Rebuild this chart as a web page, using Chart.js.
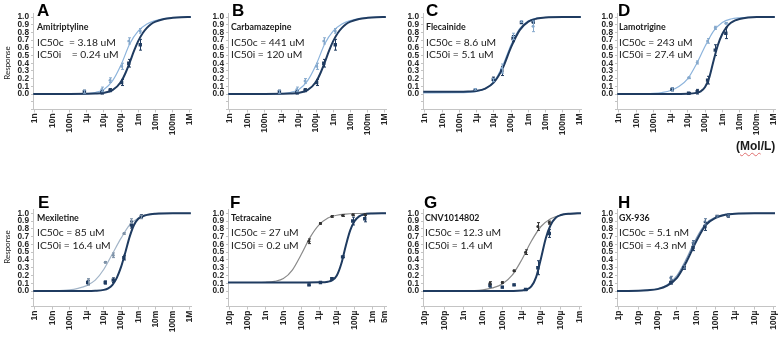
<!DOCTYPE html>
<html><head><meta charset="utf-8">
<script src="https://cdn.jsdelivr.net/npm/chart.js@4.4.0/dist/chart.umd.min.js"></script>
<style>
html,body{margin:0;padding:0;background:#fff;}
body{width:782px;height:337px;position:relative;overflow:hidden;font-family:Lato,"Liberation Sans",Arial,sans-serif;color:#1a1a1a;}
canvas{position:absolute;}
.lt{position:absolute;font-family:"Liberation Sans",Arial,sans-serif;font-weight:bold;font-size:17px;line-height:17px;color:#000;}
.nm{position:absolute;font-weight:bold;font-size:8.8px;line-height:8.8px;white-space:pre;color:#1a1a1a;}
.ic{position:absolute;font-size:10.3px;line-height:10.3px;white-space:pre;color:#1a1a1a;}
.resp{position:absolute;width:60px;height:10px;line-height:10px;text-align:center;font-size:8px;transform:rotate(-90deg);color:#1a1a1a;}
.unit{position:absolute;font-family:"Liberation Sans",Arial,sans-serif;font-weight:bold;font-size:12px;line-height:12px;color:#1a1a1a;}
</style>
</head><body>
<canvas id="cA" width="195" height="150" style="left:0px;top:0px"></canvas>
<canvas id="cB" width="195" height="150" style="left:195px;top:0px"></canvas>
<canvas id="cC" width="195" height="150" style="left:390px;top:0px"></canvas>
<canvas id="cD" width="195" height="150" style="left:584px;top:0px"></canvas>
<canvas id="cE" width="195" height="177" style="left:0px;top:160px"></canvas>
<canvas id="cF" width="195" height="177" style="left:195px;top:160px"></canvas>
<canvas id="cG" width="195" height="177" style="left:390px;top:160px"></canvas>
<canvas id="cH" width="195" height="177" style="left:584px;top:160px"></canvas>

<div class="lt" style="left:37px;top:2px">A</div>
<div class="nm" style="left:37px;top:23.4px">Amitriptyline</div>
<div class="ic" style="left:37px;top:36.6px">IC50c  = 3.18 uM</div>
<div class="ic" style="left:37px;top:48.6px">IC50i    = 0.24 uM</div>

<div class="lt" style="left:232px;top:2px">B</div>
<div class="nm" style="left:231px;top:23.4px">Carbamazepine</div>
<div class="ic" style="left:231px;top:36.6px">IC50c = 441 uM</div>
<div class="ic" style="left:231px;top:48.6px">IC50i = 120 uM</div>

<div class="lt" style="left:426px;top:2px">C</div>
<div class="nm" style="left:426px;top:23.4px">Flecainide</div>
<div class="ic" style="left:426px;top:36.6px">IC50c = 8.6 uM</div>
<div class="ic" style="left:426px;top:48.6px">IC50i = 5.1 uM</div>

<div class="lt" style="left:618px;top:2px">D</div>
<div class="nm" style="left:619px;top:23.4px">Lamotrigine</div>
<div class="ic" style="left:619px;top:36.6px">IC50c = 243 uM</div>
<div class="ic" style="left:619px;top:48.6px">IC50i = 27.4 uM</div>

<div class="lt" style="left:38px;top:194px">E</div>
<div class="nm" style="left:37px;top:214.4px">Mexiletine</div>
<div class="ic" style="left:37px;top:226.6px">IC50c = 85 uM</div>
<div class="ic" style="left:37px;top:239.6px">IC50i = 16.4 uM</div>

<div class="lt" style="left:230px;top:194px">F</div>
<div class="nm" style="left:231px;top:214.4px">Tetracaine</div>
<div class="ic" style="left:231px;top:226.6px">IC50c = 27 uM</div>
<div class="ic" style="left:231px;top:239.6px">IC50i = 0.2 uM</div>

<div class="lt" style="left:424px;top:194px">G</div>
<div class="nm" style="left:425px;top:214.4px">CNV1014802</div>
<div class="ic" style="left:425px;top:226.6px">IC50c = 12.3 uM</div>
<div class="ic" style="left:425px;top:239.6px">IC50i = 1.4 uM</div>

<div class="lt" style="left:618px;top:194px">H</div>
<div class="nm" style="left:619px;top:214.4px">GX-936</div>
<div class="ic" style="left:619px;top:226.6px">IC50c = 5.1 nM</div>
<div class="ic" style="left:619px;top:239.6px">IC50i = 4.3 nM</div>

<div class="resp" style="left:-23px;top:57.5px">Response</div>
<div class="resp" style="left:-23px;top:242px">Response</div>
<div class="unit" style="left:736px;top:140px">(<span style="text-decoration:underline wavy #e07070;text-decoration-thickness:1px;text-underline-offset:2px">Mol</span>/L)</div>

<script>
// ---- tick labels ----
const tickValsN = [1e-9,1e-8,1e-7,1e-6,1e-5,1e-4,1e-3,1e-2,1e-1,1];
const tickLabsN = ['1n','10n','100n','1µ','10µ','100µ','1m','10m','100m','1M'];
const tickValsF = [1e-11,1e-10,1e-9,1e-8,1e-7,1e-6,1e-5,1e-4,1e-3,5e-3];
const tickLabsF = ['10p','100p','1n','10n','100n','1µ','10µ','100µ','1m','5m'];
const tickValsG = [1e-11,1e-10,1e-9,1e-8,1e-7,1e-6,1e-5,1e-4,1e-3];
const tickLabsG = ['10p','100p','1n','10n','100n','1µ','10µ','100µ','1m'];
const tickValsH = [1e-12,1e-11,1e-10,1e-9,1e-8,1e-7,1e-6,1e-5,1e-4];
const tickLabsH = ['1p','10p','100p','1n','10n','100n','1µ','10µ','100µ'];
const yTickVals = [-0.2,-0.1,0,0.1,0.2,0.3,0.4,0.5,0.6,0.7,0.8,0.9,1.0];

// ---- A: Amitriptyline ----
const concA = [7.4e-7,7.6e-6,2.3e-5,1.07e-4,2.8e-4,1.3e-3];
const ctrlA = [0.03,0.06,0.18,0.36,0.69,0.82];
const ctrlErrA = [0.02,0.03,0.03,0.04,0.04,0.03];
const inactA = [0.03,0.02,0.05,0.15,0.40,0.64];
const inactErrA = [0.02,0.02,0.02,0.04,0.05,0.07];
const ctrlFitLogA = [-9.1,-7,-6,-5.5,-5,-4.5,-4,-3.5,-3,-2.5,-2,-1.5,-1,0.05];
const ctrlFitA    = [0,0.001,0.006,0.02,0.06,0.17,0.38,0.65,0.82,0.91,0.955,0.98,0.993,1];
const inactFitLogA = [-9.1,-7,-6,-5.5,-5,-4.5,-4,-3.75,-3.5,-3.25,-3,-2.75,-2.5,-2.25,-2,-1.5,-1,-0.5,0.05];
const inactFitA    = [0,0,0.002,0.005,0.015,0.05,0.16,0.27,0.41,0.56,0.69,0.79,0.86,0.91,0.94,0.975,0.99,0.998,1];

// ---- B: Carbamazepine ----
const concB = [7.4e-7,7.6e-6,2.3e-5,1.07e-4,2.8e-4,1.3e-3];
const ctrlB = [0.03,0.06,0.17,0.36,0.69,0.82];
const ctrlErrB = [0.02,0.03,0.03,0.04,0.04,0.03];
const inactB = [0.03,0.02,0.05,0.15,0.40,0.64];
const inactErrB = [0.02,0.02,0.02,0.04,0.05,0.07];
const ctrlFitLogB = [-9.1,-7,-6,-5.5,-5,-4.5,-4,-3.5,-3,-2.5,-2,-1.5,-1,0.05];
const ctrlFitB    = [0,0.001,0.006,0.02,0.06,0.17,0.38,0.65,0.82,0.91,0.955,0.98,0.993,1];
const inactFitLogB = [-9.1,-7,-6,-5.5,-5,-4.5,-4,-3.75,-3.5,-3.25,-3,-2.75,-2.5,-2.25,-2,-1.5,-1,-0.5,0.05];
const inactFitB    = [0,0,0.002,0.005,0.015,0.05,0.16,0.27,0.41,0.56,0.69,0.79,0.86,0.91,0.94,0.975,0.99,0.998,1];

// ---- C: Flecainide ----
const concC = [8.3e-7,9.3e-6,2.9e-5,1.3e-4,4.0e-4,1.9e-3];
const ctrlC = [0.06,0.18,0.33,0.75,0.94,0.88];
const ctrlErrC = [0.01,0.02,0.06,0.04,0.01,0.07];
const inactC = [0.05,0.19,0.30,0.72,0.93,0.94];
const inactErrC = [0.01,0.03,0.06,0.04,0.01,0.02];
const ctrlFitLogC = [-9.1,-7,-6.5,-6,-5.5,-5,-4.5,-4,-3.5,-3,-2.5,-2,-1,0.05];
const ctrlFitC    = [0.015,0.017,0.022,0.035,0.07,0.16,0.36,0.64,0.85,0.95,0.985,0.995,1,1];
const inactFitLogC = [-9.1,-7,-6.5,-6,-5.5,-5,-4.5,-4,-3.5,-3,-2.5,-2,-1,0.05];
const inactFitC    = [0.03,0.03,0.033,0.04,0.07,0.15,0.33,0.61,0.83,0.94,0.98,0.995,1,1];

// ---- D: Lamotrigine ----
const concD = [1.2e-6,1.1e-5,3.5e-5,1.4e-4,3.9e-4,1.6e-3];
const ctrlD = [0.06,0.21,0.41,0.69,0.86,0.92];
const ctrlErrD = [0.02,0.01,0.02,0.03,0.02,0.01];
const inactD = [0.06,0.01,0.03,0.18,0.57,0.79];
const inactErrD = [0.02,0.01,0.03,0.05,0.07,0.07];
const ctrlFitLogD = [-9.1,-8,-7,-6.5,-6,-5.5,-5,-4.5,-4,-3.5,-3,-2.5,-2,-1,0.05];
const ctrlFitD    = [0,0.001,0.008,0.02,0.045,0.1,0.2,0.39,0.62,0.82,0.93,0.975,0.99,1,1];
const inactFitLogD = [-9.1,-6,-5,-4.5,-4.25,-4,-3.75,-3.5,-3.25,-3,-2.75,-2.5,-2.25,-2,-1.5,-1,0.05];
const inactFitD    = [0,0,0.003,0.015,0.035,0.09,0.22,0.44,0.64,0.78,0.87,0.925,0.957,0.975,0.993,1,1];

// ---- E: Mexiletine ----
const concE = [1.15e-6,1.2e-5,3.5e-5,1.45e-4,4.0e-4,1.5e-3];
const ctrlE = [0.12,0.37,0.46,0.74,0.90,0.95];
const ctrlErrE = [0.04,0.01,0.03,0.01,0.03,0.02];
const inactE = [0.11,0.11,0.14,0.43,0.85,0.96];
const inactErrE = [0.03,0.02,0.03,0.03,0.04,0.02];
const ctrlFitLogE = [-9.1,-8,-7,-6.5,-6,-5.5,-5,-4.5,-4,-3.5,-3,-2.5,-2,-1,0.05];
const ctrlFitE    = [0,0.003,0.015,0.035,0.07,0.14,0.28,0.48,0.68,0.85,0.94,0.975,0.99,1,1];
const inactFitLogE = [-9.1,-6,-5.5,-5,-4.75,-4.5,-4.25,-4,-3.75,-3.5,-3.25,-3,-2.5,-2,-1,0.05];
const inactFitE    = [0,0,0.003,0.015,0.035,0.08,0.17,0.31,0.5,0.7,0.85,0.93,0.98,0.995,1,1];

// ---- F: Tetracaine ----
const concF = [2.7e-7,1.2e-6,5.2e-6,2.1e-5,7.8e-5,3.7e-4];
const ctrlF = [0.64,0.87,0.96,0.97,0.98,0.98];
const ctrlErrF = [0.03,0.01,0.01,0.01,0.01,0.01];
const inactF = [0.08,0.11,0.16,0.44,0.90,0.93];
const inactErrF = [0.01,0,0.01,0.01,0.05,0.04];
const ctrlFitLogF = [-11.11,-9.5,-9,-8.5,-8,-7.5,-7,-6.5,-6,-5.5,-5,-4.5,-4,-3,-2.24];
const ctrlFitF    = [0.11,0.11,0.113,0.125,0.16,0.27,0.47,0.69,0.85,0.94,0.975,0.99,0.997,1,1];
const inactFitLogF = [-11.11,-7,-6,-5.5,-5.25,-5,-4.75,-4.5,-4.25,-4,-3.75,-3.5,-3,-2.24];
const inactFitF    = [0.11,0.11,0.112,0.12,0.14,0.2,0.35,0.58,0.78,0.9,0.96,0.985,0.997,1];

// ---- G: CNV1014802 ----
const concG = [2.3e-8,1.0e-7,4.0e-7,1.6e-6,6.9e-6,2.7e-5];
const ctrlG = [0.10,0.11,0.26,0.50,0.83,0.88];
const ctrlErrG = [0.02,0.01,0.01,0.03,0.05,0.02];
const inactG = [0.07,0.05,0.08,0.02,0.30,0.74];
const inactErrG = [0.02,0.01,0.01,0.01,0.09,0.05];
const ctrlFitLogG = [-11.1,-9,-8,-7.5,-7,-6.5,-6,-5.5,-5,-4.5,-4,-3.5,-2.93];
const ctrlFitG    = [0,0.002,0.015,0.04,0.09,0.2,0.4,0.64,0.83,0.93,0.975,0.99,1];
const inactFitLogG = [-11.1,-7,-6,-5.75,-5.5,-5.25,-5,-4.75,-4.5,-4.25,-4,-3.5,-2.93];
const inactFitG    = [0,0,0.008,0.02,0.06,0.18,0.42,0.68,0.85,0.94,0.975,0.995,1];

// ---- H: GX-936 ----
const concH = [4.8e-10,2.3e-9,6.8e-9,2.8e-8,1.2e-7,4.4e-7];
const ctrlH = [0.17,0.31,0.62,0.89,0.96,0.97];
const ctrlErrH = [0.02,0.02,0.03,0.04,0.01,0.01];
const inactH = [0.11,0.30,0.56,0.83,0.96,0.97];
const inactErrH = [0.02,0.02,0.04,0.05,0.01,0.02];
const ctrlFitLogH = [-12.1,-11,-10.5,-10,-9.5,-9,-8.5,-8,-7.5,-7,-6.5,-6,-5,-3.93];
const ctrlFitH    = [0,0.004,0.012,0.03,0.08,0.2,0.42,0.68,0.87,0.95,0.985,0.995,1,1];
const inactFitLogH = [-12.1,-11,-10.5,-10,-9.5,-9,-8.5,-8,-7.5,-7,-6.5,-6,-5,-3.93];
const inactFitH    = [0,0.003,0.01,0.025,0.07,0.17,0.38,0.64,0.85,0.94,0.98,0.995,1,1];

// ---------- drawing ----------
const errPlugin = {
  id: 'errbars',
  afterDatasetsDraw(chart) {
    const ctx = chart.ctx, xs = chart.scales.x, ys = chart.scales.y;
    chart.data.datasets.forEach((ds) => {
      if (!ds.errs) return;
      ctx.save();
      ctx.strokeStyle = ds.errColor || ds.borderColor;
      ctx.lineWidth = 1;
      ds.data.forEach((p, j) => {
        const e = ds.errs[j];
        if (!e) return;
        const px = Math.round(xs.getPixelForValue(p.x)) + 0.5;
        const y1 = ys.getPixelForValue(p.y + e), y2 = ys.getPixelForValue(p.y - e);
        ctx.beginPath();
        ctx.moveTo(px, y1); ctx.lineTo(px, y2);
        ctx.moveTo(px - 1.5, y1); ctx.lineTo(px + 1.5, y1);
        ctx.moveTo(px - 1.5, y2); ctx.lineTo(px + 1.5, y2);
        ctx.stroke();
      });
      ctx.restore();
    });
  }
};

function pts(xs, ys) { return xs.map((x, i) => ({x: x, y: ys[i]})); }
function logPts(ls, ys) { return ls.map((l, i) => ({x: Math.pow(10, l), y: ys[i]})); }

function mk(id, o) {
  const AX = '#c4c4c4';
  const chartBottom = o.bottom;
  new Chart(document.getElementById(id), {
    type: 'line',
    data: { datasets: [
      { data: pts(o.conc, o.inact), errs: o.inactErr, showLine: false, pointStyle: 'rect', pointRadius: 2.4,
        backgroundColor: o.dark, borderColor: o.dark, borderWidth: 0, errColor: o.dark },
      { data: pts(o.conc, o.ctrl), errs: o.ctrlErr, showLine: false, pointStyle: 'circle', pointRadius: 1.5,
        backgroundColor: o.ctrlPt, borderColor: o.ctrlPt, borderWidth: 0, errColor: o.ctrlPt },
      { data: logPts(o.inactLog, o.inactFit), pointRadius: 0, borderColor: o.dark, borderWidth: 2,
        cubicInterpolationMode: 'monotone', fill: false },
      { data: logPts(o.ctrlLog, o.ctrlFit), pointRadius: 0, borderColor: o.ctrlLine, borderWidth: 1.2,
        cubicInterpolationMode: 'monotone', fill: false }
    ]},
    options: {
      responsive: false, animation: false, devicePixelRatio: 1,
      layout: { padding: { top: o.top, right: 2, left: 0, bottom: 0 } },
      plugins: { legend: { display: false }, tooltip: { enabled: false } },
      scales: {
        x: {
          type: 'logarithmic', min: Math.pow(10, o.xminLog), max: Math.pow(10, o.xmaxLog),
          afterBuildTicks: (ax) => { ax.ticks = o.tickVals.map(v => ({ value: v })); },
          afterFit: (ax) => { ax.height = o.canvasH - chartBottom; ax.paddingLeft = 0; ax.paddingRight = 0; },
          grid: { display: true, drawOnChartArea: false, drawTicks: true, tickLength: 3, color: AX },
          border: { display: true, color: AX, width: 1 },
          ticks: { autoSkip: false, maxRotation: 90, minRotation: 90, padding: 1, color: '#262626',
            font: { family: 'Liberation Sans', size: 8.5, weight: 'bold' },
            callback: (v, i) => o.tickLabs[i] }
        },
        y: {
          type: 'linear', min: -0.2, max: 1.05,
          afterBuildTicks: (ax) => { ax.ticks = yTickVals.map(v => ({ value: v })); },
          afterFit: (ax) => { ax.width = 33; ax.paddingTop = 0; ax.paddingBottom = 0; },
          grid: { display: true, drawOnChartArea: false, drawTicks: true, tickLength: 2, color: AX },
          border: { display: true, color: AX, width: 1 },
          ticks: { autoSkip: false, padding: 2, color: '#262626',
            font: { family: 'Liberation Sans', size: 8.3, weight: 'bold' },
            callback: (v) => (v >= -1e-9 ? Number(v).toFixed(1) : '') }
        }
      }
    },
    plugins: [errPlugin]
  });
}

const blueTop = { dark: '#1f3b60', ctrlLine: '#8db4dc', ctrlPt: '#86a9cc' };
const rowTop = { top: 13.2, bottom: 109.4, canvasH: 150 };
const rowBot = { top: 49.4, bottom: 146.6, canvasH: 177 };
const axN = { xminLog: -9.115, xmaxLog: 0.06, tickVals: tickValsN, tickLabs: tickLabsN };

mk('cA', Object.assign({}, rowTop, axN, blueTop, { conc: concA, ctrl: ctrlA, ctrlErr: ctrlErrA, inact: inactA, inactErr: inactErrA,
  ctrlLog: ctrlFitLogA, ctrlFit: ctrlFitA, inactLog: inactFitLogA, inactFit: inactFitA }));
mk('cB', Object.assign({}, rowTop, axN, blueTop, { conc: concB, ctrl: ctrlB, ctrlErr: ctrlErrB, inact: inactB, inactErr: inactErrB,
  ctrlLog: ctrlFitLogB, ctrlFit: ctrlFitB, inactLog: inactFitLogB, inactFit: inactFitB }));
mk('cC', Object.assign({}, rowTop, axN, blueTop, { conc: concC, ctrl: ctrlC, ctrlErr: ctrlErrC, inact: inactC, inactErr: inactErrC,
  ctrlLog: ctrlFitLogC, ctrlFit: ctrlFitC, inactLog: inactFitLogC, inactFit: inactFitC }));
mk('cD', Object.assign({}, rowTop, axN, blueTop, { conc: concD, ctrl: ctrlD, ctrlErr: ctrlErrD, inact: inactD, inactErr: inactErrD,
  ctrlLog: ctrlFitLogD, ctrlFit: ctrlFitD, inactLog: inactFitLogD, inactFit: inactFitD }));
mk('cE', Object.assign({}, rowBot, axN, { dark: '#1f3b60', ctrlLine: '#a3b5c8', ctrlPt: '#7f93a8' }, { conc: concE, ctrl: ctrlE, ctrlErr: ctrlErrE, inact: inactE, inactErr: inactErrE,
  ctrlLog: ctrlFitLogE, ctrlFit: ctrlFitE, inactLog: inactFitLogE, inactFit: inactFitE }));
mk('cF', Object.assign({}, rowBot, { xminLog: -11.11, xmaxLog: -2.24, tickVals: tickValsF, tickLabs: tickLabsF },
  { dark: '#1f3b60', ctrlLine: '#8a8a8a', ctrlPt: '#333333' }, { conc: concF, ctrl: ctrlF, ctrlErr: ctrlErrF, inact: inactF, inactErr: inactErrF,
  ctrlLog: ctrlFitLogF, ctrlFit: ctrlFitF, inactLog: inactFitLogF, inactFit: inactFitF }));
mk('cG', Object.assign({}, rowBot, { xminLog: -11.1, xmaxLog: -2.93, tickVals: tickValsG, tickLabs: tickLabsG },
  { dark: '#1f3b60', ctrlLine: '#8a8a8a', ctrlPt: '#333333' }, { conc: concG, ctrl: ctrlG, ctrlErr: ctrlErrG, inact: inactG, inactErr: inactErrG,
  ctrlLog: ctrlFitLogG, ctrlFit: ctrlFitG, inactLog: inactFitLogG, inactFit: inactFitG }));
mk('cH', Object.assign({}, rowBot, { xminLog: -12.1, xmaxLog: -3.93, tickVals: tickValsH, tickLabs: tickLabsH },
  { dark: '#1f3b60', ctrlLine: '#7d98b8', ctrlPt: '#5a7698' }, { conc: concH, ctrl: ctrlH, ctrlErr: ctrlErrH, inact: inactH, inactErr: inactErrH,
  ctrlLog: ctrlFitLogH, ctrlFit: ctrlFitH, inactLog: inactFitLogH, inactFit: inactFitH }));
</script>
</body></html>
